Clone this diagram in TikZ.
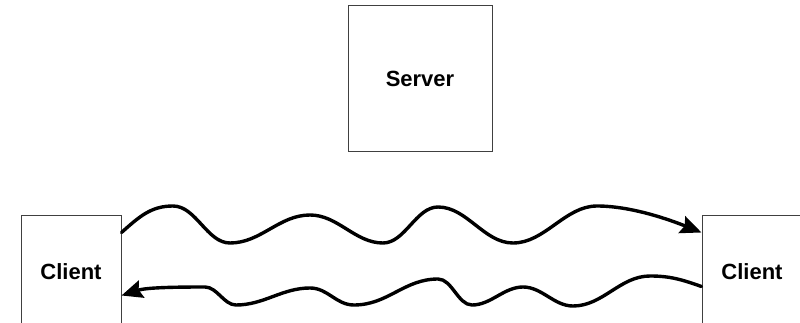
\documentclass[tikz,border=0pt]{standalone}
\usepackage{fontspec}
\setmainfont{Liberation Sans}
\usetikzlibrary{arrows.meta,calc}
\begin{document}
\begin{tikzpicture}[x=1pt,y=-1pt,
  box/.style={draw=black!75,line width=1pt,fill=white,inner sep=0pt,
    font=\fontsize{22}{26}\selectfont\bfseries},
  wave/.style={line width=3.4pt,line cap=round,
    -{Stealth[length=21pt,width=18pt,inset=3pt]}}]
\useasboundingbox (0,0) rectangle (800,323);
\clip (0,0) rectangle (800,323);
\node[box,minimum width=144pt,minimum height=146pt] (server) at (420,79) {Server};
\node[box,minimum width=100pt,minimum height=114pt] (lc) at (71,272) {Client};
\node[box,minimum width=100pt,minimum height=114pt] (rc) at (752,272) {Client};
\draw[wave] ($(lc.north east)+(0,18)$)
  .. controls +(18,-16) and +(-22,0) .. (173,206)
  .. controls +(23,0) and +(-23,0) .. (230,243)
  .. controls +(31,0) and +(-31,0) .. (310,215)
  .. controls +(28,0) and +(-28,0) .. (383,243)
  .. controls +(22,0) and +(-22,0) .. (438,207)
  .. controls +(29,0) and +(-29,0) .. (513,243)
  .. controls +(32,0) and +(-32,0) .. (597,206)
  .. controls +(35,0) and +(-30,-12) .. ($(rc.north west)+(0,18)$);
\draw[wave] ($(rc.north west)+(0,72)$)
  .. controls +(-20,-7) and +(20,0) .. (650,276)
  .. controls +(-30,0) and +(30,0) .. (573,306)
  .. controls +(-19,0) and +(19,0) .. (523,287)
  .. controls +(-19,0) and +(19,0) .. (472,305)
  .. controls +(-14,0) and +(14,0) .. (438,279)
  .. controls +(-34,0) and +(34,0) .. (354,305)
  .. controls +(-18,0) and +(18,0) .. (310,288)
  .. controls +(-28,0) and +(28,0) .. (236,305)
  .. controls +(-12,0) and +(12,0) .. (205,287)
  .. controls +(-30,0) and +(25,-8) .. ($(lc.north east)+(0,81)$);
\end{tikzpicture}
\end{document}
